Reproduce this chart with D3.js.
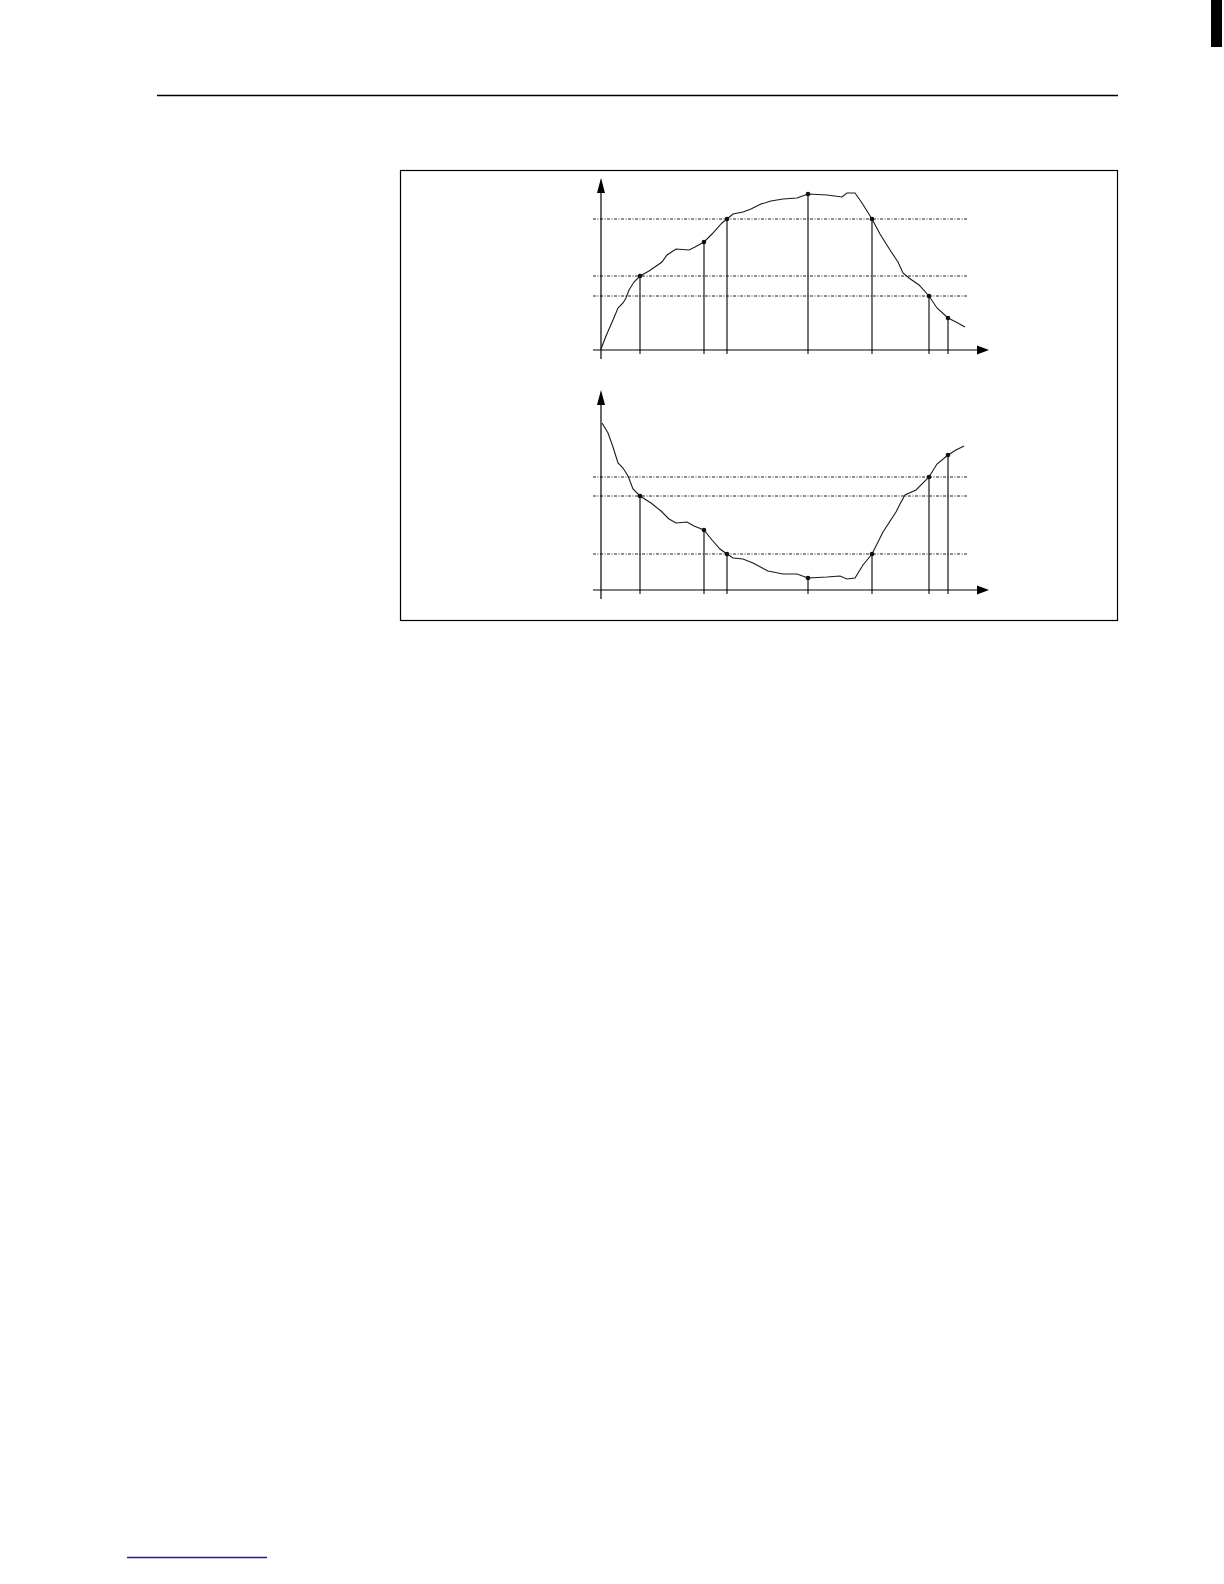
<!DOCTYPE html>
<html>
<head>
<meta charset="utf-8">
<script src="https://cdn.jsdelivr.net/npm/d3@7"></script>
<style>
  body { margin: 0; background: #fff; }
  svg { display: block; }
</style>
</head>
<body>
<svg id="page" width="1224" height="1584"></svg>
<script>
// curve readings, x = time units from origin, y = level units
const topCurve = [
  [0, 1], [5, 14], [12, 30], [17, 42], [22, 47], [25, 52], [28, 60], [33, 68],
  [39, 74], [48, 79], [61, 88], [66, 95], [75, 101], [88, 100], [94, 103],
  [103, 108], [111, 116], [121, 127], [126, 131], [132, 136], [142, 138],
  [150, 141], [160, 146], [170, 149], [182, 151], [196, 152], [207, 156],
  [226, 155], [241, 153], [246, 157], [254, 157], [261, 147], [266, 139],
  [271, 131], [279, 116], [289, 100], [297, 88], [302, 77], [308, 72],
  [318, 65], [328, 54], [336, 42], [347, 32], [355, 28], [364, 23]
];
const bottomCurve = [
  [1, 167], [7, 157], [12, 143], [17, 127], [22, 122], [27, 114], [32, 101],
  [39, 94], [50, 87], [60, 79], [68, 71], [75, 67], [86, 68], [93, 64],
  [103, 60], [111, 50], [119, 41], [126, 36], [132, 32], [142, 31], [152, 27],
  [167, 19], [182, 16], [196, 16], [207, 12], [226, 13], [239, 14], [246, 11],
  [254, 12], [262, 25], [271, 36], [282, 58], [295, 78], [299, 86], [304, 95],
  [315, 100], [328, 113], [336, 126], [347, 135], [355, 140], [363, 144]
];
const markX = [39, 103, 126, 207, 271, 328, 347];
const topLevels = [131, 74, 54];
const bottomLevels = [113, 94, 36];

const svg = d3.select("#page");

// page furniture
svg.append("line")
  .attr("x1", 157).attr("x2", 1118).attr("y1", 95.5).attr("y2", 95.5)
  .attr("stroke", "#000").attr("stroke-width", 1.3);
svg.append("rect")
  .attr("x", 1211).attr("y", 0).attr("width", 11).attr("height", 47)
  .attr("fill", "#000");
svg.append("line")
  .attr("x1", 127).attr("x2", 267).attr("y1", 1557.5).attr("y2", 1557.5)
  .attr("stroke", "#1c1c8c").attr("stroke-width", 1.3);

// figure frame
svg.append("rect")
  .attr("x", 400.5).attr("y", 170.5).attr("width", 717).attr("height", 450)
  .attr("fill", "none").attr("stroke", "#000").attr("stroke-width", 1.2);

const x = d3.scaleLinear().domain([0, 388]).range([601, 989]);

function drawPanel(curve, levels, y, yTop) {
  const g = svg.append("g");
  const x0 = x(0), y0 = y(0);

  // dotted levels
  g.selectAll(".level")
    .data(levels)
    .enter().append("line")
    .attr("class", "level")
    .attr("x1", x(-8)).attr("x2", x(366))
    .attr("y1", d => y(d)).attr("y2", d => y(d))
    .attr("stroke", "#222").attr("stroke-width", 1)
    .attr("stroke-dasharray", "3,1.5,1,1.5");

  // axes
  g.append("line")
    .attr("x1", x0).attr("x2", x0)
    .attr("y1", y(-9)).attr("y2", y(yTop) + 10)
    .attr("stroke", "#000").attr("stroke-width", 1.2);
  g.append("path")
    .attr("d", `M${x0},${y(yTop)} L${x0 - 4},${y(yTop) + 15} L${x0 + 4},${y(yTop) + 15} Z`)
    .attr("fill", "#000");
  g.append("line")
    .attr("x1", x(-8)).attr("x2", x(380))
    .attr("y1", y0).attr("y2", y0)
    .attr("stroke", "#000").attr("stroke-width", 1.2);
  g.append("path")
    .attr("d", `M${x(388)},${y0} L${x(388) - 12},${y0 - 4.5} L${x(388) - 12},${y0 + 4.5} Z`)
    .attr("fill", "#000");

  const marks = markX.map(mx => curve.find(d => d[0] === mx));

  // drop lines
  g.selectAll(".drop")
    .data(marks)
    .enter().append("line")
    .attr("class", "drop")
    .attr("x1", d => x(d[0])).attr("x2", d => x(d[0]))
    .attr("y1", d => y(d[1])).attr("y2", y0 + 4)
    .attr("stroke", "#000").attr("stroke-width", 1.1);

  // curve
  g.append("path")
    .datum(curve)
    .attr("d", d3.line().x(d => x(d[0])).y(d => y(d[1])))
    .attr("fill", "none")
    .attr("stroke", "#1a1a1a").attr("stroke-width", 1.1);

  g.selectAll(".mark")
    .data(marks)
    .enter().append("circle")
    .attr("class", "mark")
    .attr("cx", d => x(d[0])).attr("cy", d => y(d[1]))
    .attr("r", 2.3)
    .attr("fill", "#111");
}

drawPanel(topCurve, topLevels, d3.scaleLinear().domain([0, 172]).range([350, 178]), 172);
drawPanel(bottomCurve, bottomLevels, d3.scaleLinear().domain([0, 200]).range([590, 390]), 200);
</script>
</body>
</html>
